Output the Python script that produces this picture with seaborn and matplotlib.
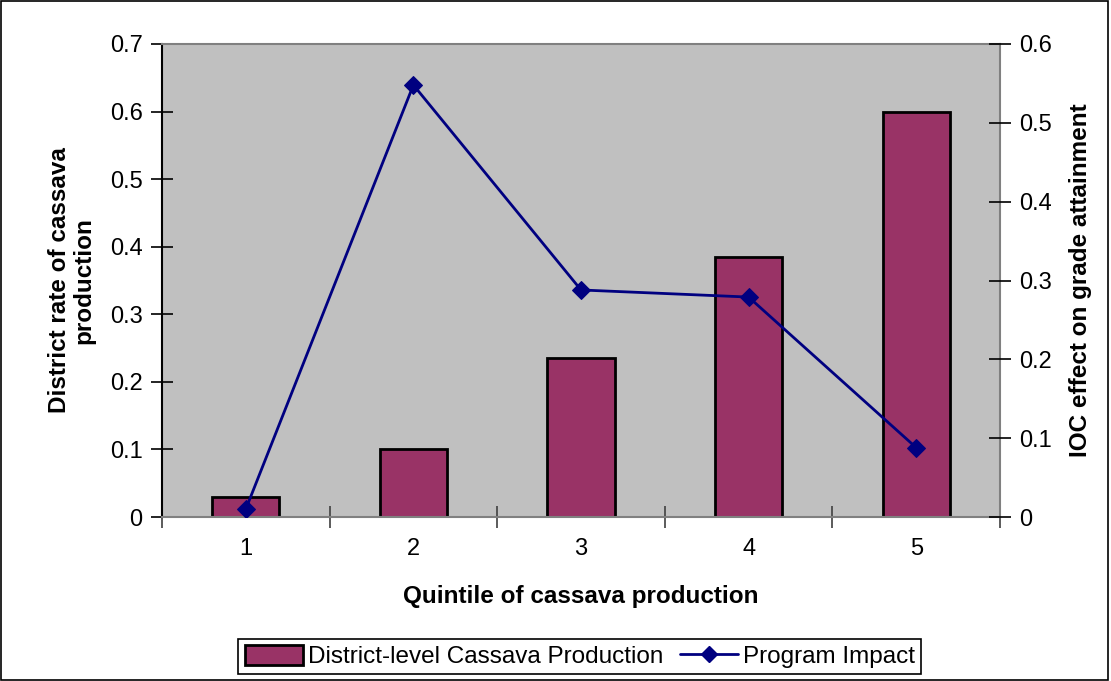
import numpy as np
import pandas as pd
import matplotlib
matplotlib.use("Agg")
import matplotlib.pyplot as plt
import seaborn as sns
from matplotlib.patches import Patch, Rectangle
from matplotlib.lines import Line2D

# Data
quintiles = ["1", "2", "3", "4", "5"]
cassava_rate = [0.03, 0.10, 0.235, 0.385, 0.60]
program_impact = [0.010, 0.548, 0.288, 0.279, 0.088]

left_ticks = [0, 0.1, 0.2, 0.3, 0.4, 0.5, 0.6, 0.7]
right_ticks = [0, 0.1, 0.2, 0.3, 0.4, 0.5, 0.6]

df = pd.DataFrame({"quintile": quintiles, "rate": cassava_rate,
                   "impact": program_impact, "pos": np.arange(len(quintiles))})

sns.set_theme(style="white")
plt.rcParams["font.family"] = ["Liberation Sans", "DejaVu Sans"]
plt.rcParams.update({"text.color": "black", "axes.labelcolor": "black",
                     "xtick.color": "black", "ytick.color": "black"})

bar_color = "#993366"
line_color = "#000080"
tick_fs = 17
label_fs = 17.5

fig = plt.figure(figsize=(11.11, 6.81), dpi=100)
ax = fig.add_axes([0.1458, 0.2408, 0.7543, 0.6946])
ax.set_facecolor("#C0C0C0")

sns.barplot(data=df, x="quintile", y="rate", color=bar_color, saturation=1,
            width=0.4, edgecolor="black", linewidth=2, ax=ax, zorder=2)

ax.set_xlim(-0.5, len(quintiles) - 0.5)
ax.set_ylim(0, 0.7)
ax.set_yticks(left_ticks)
ax.set_yticklabels([f"{t:g}" for t in left_ticks])
ax.set_xticks(np.arange(len(quintiles)))
ax.set_xticklabels(quintiles)
ax.set_xticks(np.arange(len(quintiles) + 1) - 0.5, minor=True)
ax.tick_params(axis="x", which="major", length=0, labelsize=tick_fs, pad=15,
               labelcolor="black")
ax.tick_params(axis="x", which="minor", direction="inout", length=16, width=1.2,
               color="#404040", bottom=True)
ax.tick_params(axis="y", direction="inout", length=16, width=1.2, labelsize=tick_fs,
               left=True, color="black", labelcolor="black", pad=6)

ax.set_xlabel("Quintile of cassava production", fontsize=label_fs, fontweight="bold",
              labelpad=18)
ax.set_ylabel("District rate of cassava\nproduction", fontsize=label_fs,
              fontweight="bold", labelpad=10, linespacing=1.1)

for side in ["top", "right", "bottom"]:
    ax.spines[side].set_color("#808080")
    ax.spines[side].set_linewidth(1.5)
ax.spines["left"].set_color("black")
ax.spines["left"].set_linewidth(1.5)

ax2 = ax.twinx()
sns.lineplot(data=df, x="pos", y="impact", color=line_color, linewidth=2,
             marker="D", markersize=9, markeredgecolor=line_color, ax=ax2, zorder=3)
ax2.set_ylim(0, 0.6)
ax2.set_xlim(-0.5, len(quintiles) - 0.5)
ax2.set_yticks(right_ticks)
ax2.set_yticklabels([f"{t:g}" for t in right_ticks])
ax2.tick_params(axis="y", direction="inout", length=16, width=1.2, labelsize=tick_fs,
                right=True, color="black", labelcolor="black", pad=6)
ax2.set_ylabel("IOC effect on grade attainment", fontsize=label_fs, fontweight="bold",
               labelpad=12)
ax2.set_xlabel("")
for side in ["top", "right", "bottom", "left"]:
    ax2.spines[side].set_visible(False)

handles = [
    Patch(facecolor=bar_color, edgecolor="black", linewidth=2),
    Line2D([0], [0], color=line_color, linewidth=2, marker="D", markersize=8),
]
leg = fig.legend(handles, ["District-level Cassava Production", "Program Impact"],
                 loc="center", bbox_to_anchor=(0.522, 0.036), ncol=2, fontsize=17.5,
                 frameon=True, fancybox=False, edgecolor="black", framealpha=1,
                 handlelength=2.4, handleheight=0.9, handletextpad=0.2,
                 columnspacing=0.7, borderpad=0.25, borderaxespad=0)
leg.get_frame().set_linewidth(1.2)

fig.patches.append(Rectangle((0.001, 0.002), 0.996, 0.996, transform=fig.transFigure,
                             fill=False, edgecolor="black", linewidth=1.2))

fig.savefig("out.png", dpi=100, facecolor="white")
